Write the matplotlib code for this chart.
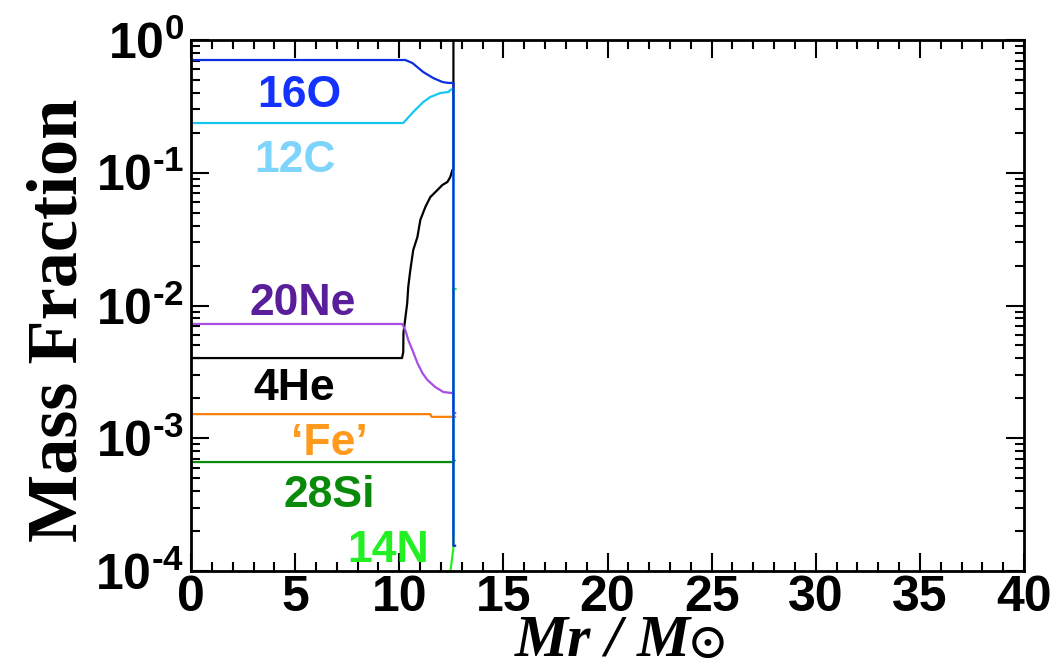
import numpy as np
import matplotlib
matplotlib.use("Agg")
import matplotlib.pyplot as plt
from matplotlib.ticker import MultipleLocator, LogLocator, FuncFormatter, NullFormatter

plt.rcParams['font.family'] = ['Liberation Sans', 'DejaVu Sans']
plt.rcParams['font.weight'] = 'bold'
plt.rcParams['mathtext.fontset'] = 'custom'
plt.rcParams['mathtext.rm'] = 'Liberation Sans:bold'
plt.rcParams['mathtext.bf'] = 'Liberation Sans:bold'
plt.rcParams['mathtext.it'] = 'Liberation Serif:italic:bold'
plt.rcParams['mathtext.default'] = 'rm'
plt.rcParams['mathtext.fallback'] = 'stix'

# --- data ---
x_o16 = [0, 10.29, 10.63, 11.15, 11.63, 12.07, 12.35, 12.6, 12.6, 12.68]
y_o16 = [0.707, 0.707, 0.671, 0.574, 0.517, 0.483, 0.475, 0.475, 1.55e-4, 1.55e-4]

x_c12 = [0, 10.19, 10.67, 11.15, 11.49, 11.97, 12.36, 12.45, 12.6, 12.6]
y_c12 = [0.237, 0.237, 0.287, 0.341, 0.372, 0.399, 0.406, 0.42, 0.43, 1.9e-4]

x_he4 = [0, 10.13, 10.19, 10.2, 10.38, 10.43, 10.53, 10.67, 10.87, 11.01, 11.25,
         11.49, 11.83, 12.07, 12.31, 12.45, 12.55, 12.6, 12.6]
y_he4 = [0.00402, 0.00402, 0.00446, 0.0062, 0.0104, 0.0138, 0.0185, 0.0262, 0.0328,
         0.0441, 0.0552, 0.0656, 0.0741, 0.0809, 0.0852, 0.0929, 0.105, 0.105, 2.0]

x_ne20 = [0, 10.14, 10.29, 10.43, 10.63, 10.87, 11.11, 11.35, 11.73, 12.12, 12.55,
          12.6, 12.6, 12.68]
y_ne20 = [0.00726, 0.00726, 0.00654, 0.0055, 0.00462, 0.00369, 0.0031, 0.00275,
          0.00243, 0.00223, 0.00219, 0.00219, 0.00155, 0.00155]

x_fe = [0, 11.49, 11.55, 12.68]
y_fe = [0.00152, 0.00152, 0.00145, 0.00145]

x_si28 = [0, 12.6, 12.65]
y_si28 = [0.000662, 0.000662, 0.00068]

x_n14 = [12.33, 12.6, 12.6, 12.7]
y_n14 = [7e-5, 1.5e-4, 0.0133, 0.0133]

labels = ['16O', '12C', '20Ne', '4He', '\u2018Fe\u2019', '28Si', '14N']
label_x = [5.19, 5.0, 5.34, 4.96, 6.65, 6.65, 9.47]
label_y = [0.313, 0.1018, 0.00848, 0.00194, 0.000748, 0.000303, 0.000117]
label_colors = ['#1432ff', '#7fd4fc', '#5a1e9b', 'black', '#ff9a1e', '#0a8a0a', '#22f022']


def exp_label(v, pos):
    e = int(round(np.log10(v)))
    if e < 0:
        return r'$10^{\text{-}%d}$' % (-e)
    return r'$10^{%d}$' % e


fig = plt.figure(figsize=(10.52, 6.67), dpi=100)
ax = fig.add_axes([0.1816, 0.1439, 0.7918, 0.7961])

lw = 1.6
ax.plot(x_n14, y_n14, color='#22f022', lw=lw)
ax.plot(x_si28, y_si28, color='#0a8a0a', lw=lw)
ax.plot(x_fe, y_fe, color='#f8800a', lw=lw)
ax.plot(x_he4, y_he4, color='black', lw=lw)
ax.plot(x_ne20, y_ne20, color='#a84ee0', lw=lw)
ax.plot(x_c12, y_c12, color='#14c8f0', lw=lw)
ax.plot(x_o16, y_o16, color='#0a2ee0', lw=lw)

for s, xx, yy, c in zip(labels, label_x, label_y, label_colors):
    ax.text(xx, yy, s, color=c, fontsize=32, fontweight='bold',
            ha='center', va='baseline')

ax.set_yscale('log')
ax.set_xlim(0, 40)
ax.set_ylim(1e-4, 1)

ax.xaxis.set_major_locator(MultipleLocator(5))
ax.xaxis.set_minor_locator(MultipleLocator(1))
ax.yaxis.set_major_locator(LogLocator(base=10))
ax.yaxis.set_minor_locator(LogLocator(base=10, subs=np.arange(2, 10)))
ax.yaxis.set_minor_formatter(NullFormatter())
ax.yaxis.set_major_formatter(FuncFormatter(exp_label))

ax.tick_params(which='both', direction='in', top=True, right=True, width=1.5)
ax.tick_params(which='major', length=13)
ax.tick_params(which='minor', length=6.5)
ax.tick_params(axis='x', labelsize=36, pad=3)
ax.tick_params(axis='y', labelsize=36, pad=5)

for sp in ax.spines.values():
    sp.set_linewidth(2)

ax.set_ylabel('Mass Fraction', fontsize=52, fontweight='bold',
              family='Liberation Serif')
ax.yaxis.set_label_coords(-0.12, 0.473)
ax.set_xlabel('Mr / M', fontsize=43, fontweight='bold',
              style='italic', family='Liberation Serif')
ax.xaxis.set_label_coords(0.494, -0.082)
# sun symbol after the M, small and sitting on the baseline
fig.text(0.672, 0.0375, r'$\odot$', fontsize=33, ha='center', va='center')

fig.savefig('out.png', dpi=100)
